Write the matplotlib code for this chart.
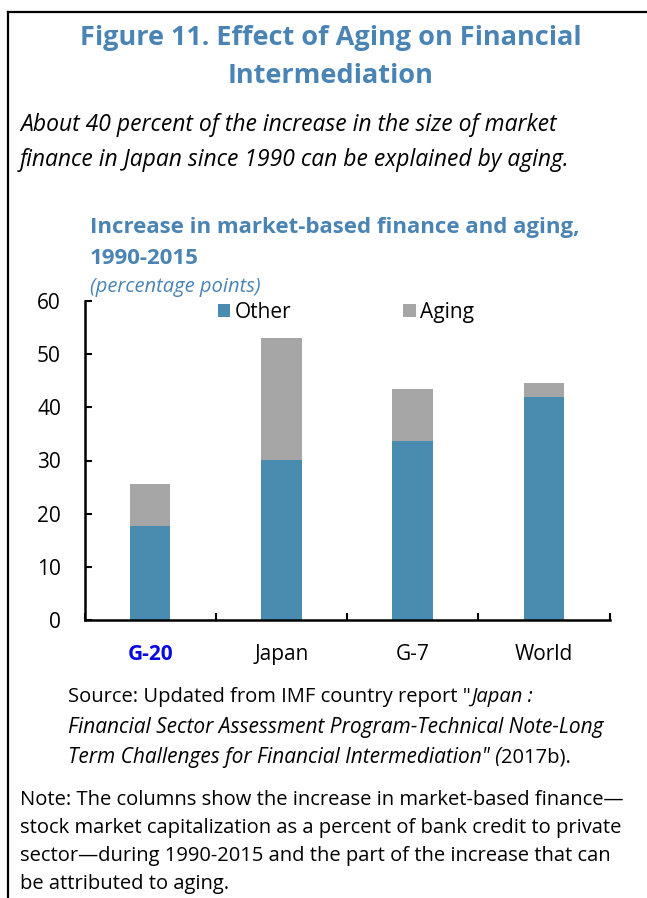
import matplotlib
matplotlib.use("Agg")
import matplotlib.pyplot as plt
import numpy as np

plt.rcParams['font.family'] = ['Open Sans', 'DejaVu Sans']

categories = ['G-20', 'Japan', 'G-7', 'World']
other = [17.7, 30.1, 33.6, 41.9]
aging = [7.8, 22.9, 9.8, 2.6]

blue = '#4a8bb0'
gray = '#a6a6a6'
title_blue = '#4a84b4'

W, H = 647, 898
fig = plt.figure(figsize=(W / 100, H / 100), dpi=100)


def fx(px):
    return px / W


def fy(py):
    return 1 - py / H


# frame around the figure
fig.add_artist(plt.Line2D([fx(8), fx(8)], [fy(12), 0], color='black', lw=1.6))
fig.add_artist(plt.Line2D([fx(8), 1.0], [fy(12), fy(12)], color='black', lw=1.6))

fig.text(fx(331), fy(38), 'Figure 11. Effect of Aging on Financial', ha='center', va='center',
         fontsize=19.5, fontweight='bold', color=title_blue)
fig.text(fx(331), fy(76), 'Intermediation', ha='center', va='center',
         fontsize=19.5, fontweight='bold', color=title_blue)

fig.text(fx(20), fy(125), 'About 40 percent of the increase in the size of market', ha='left', va='center',
         fontsize=16.5, style='italic', color='black')
fig.text(fx(20), fy(160), 'finance in Japan since 1990 can be explained by aging.', ha='left', va='center',
         fontsize=16.5, style='italic', color='black')

fig.text(fx(90), fy(228), 'Increase in market-based finance and aging,', ha='left', va='center',
         fontsize=16, fontweight='bold', color=title_blue)
fig.text(fx(90), fy(259), '1990-2015', ha='left', va='center',
         fontsize=16, fontweight='bold', color=title_blue)
fig.text(fx(90), fy(287), '(percentage points)', ha='left', va='center',
         fontsize=14.5, style='italic', color=title_blue)

ax = fig.add_axes([fx(84.5), fy(620), fx(609.5) - fx(84.5), fy(301) - fy(620)])
x = np.arange(len(categories))
ax.bar(x, other, width=0.31, color=blue, label='Other')
ax.bar(x, aging, width=0.31, bottom=other, color=gray, label='Aging')

ax.set_xlim(-0.5, 3.5)
ax.set_ylim(0, 60)
ax.set_yticks(np.arange(0, 61, 10))
ax.set_xticks(x)
ax.set_xticklabels(categories)
ax.set_xticks(np.arange(-0.5, 3.6, 1), minor=True)
ax.tick_params(axis='x', which='major', length=0, labelsize=15, pad=17)
ax.tick_params(axis='x', which='minor', direction='in', length=5, width=1.5)
ax.tick_params(axis='y', direction='in', length=5, width=1.5, labelsize=15, pad=17)
for s in ['top', 'right']:
    ax.spines[s].set_visible(False)
for s in ['left', 'bottom']:
    ax.spines[s].set_linewidth(1.8)
lbl = ax.get_xticklabels()[0]
lbl.set_color('#0a0ae0')
lbl.set_fontweight('bold')

ax.legend(loc='upper left', bbox_to_anchor=(0.218, 1.057), ncol=2, frameon=False, fontsize=15,
          handlelength=0.6, handleheight=0.6, handletextpad=0.2, columnspacing=5.4)

fs = 14.5
src1 = fig.text(fx(68), fy(697), 'Source: Updated from IMF country report "', ha='left', va='center', fontsize=fs)
fig.canvas.draw()
bb = src1.get_window_extent()
fig.text(bb.x1 / W, fy(697), 'Japan :', ha='left', va='center', fontsize=fs, style='italic')
fig.text(fx(68), fy(728), 'Financial Sector Assessment Program-Technical Note-Long', ha='left', va='center',
         fontsize=15, style='italic')
src3 = fig.text(fx(68), fy(757), 'Term Challenges for Financial Intermediation" (', ha='left', va='center',
                fontsize=15, style='italic')
fig.canvas.draw()
bb = src3.get_window_extent()
fig.text(bb.x1 / W, fy(757), '2017b).', ha='left', va='center', fontsize=fs)

notes = ['Note: The columns show the increase in market-based finance\u2014',
         'stock market capitalization as a percent of bank credit to private',
         'sector\u2014during 1990-2015 and the part of the increase that can',
         'be attributed to aging.']
for i, line in enumerate(notes):
    fig.text(fx(20), fy(800 + i * 28), line, ha='left', va='center', fontsize=fs)

fig.savefig('out.png', dpi=100)
